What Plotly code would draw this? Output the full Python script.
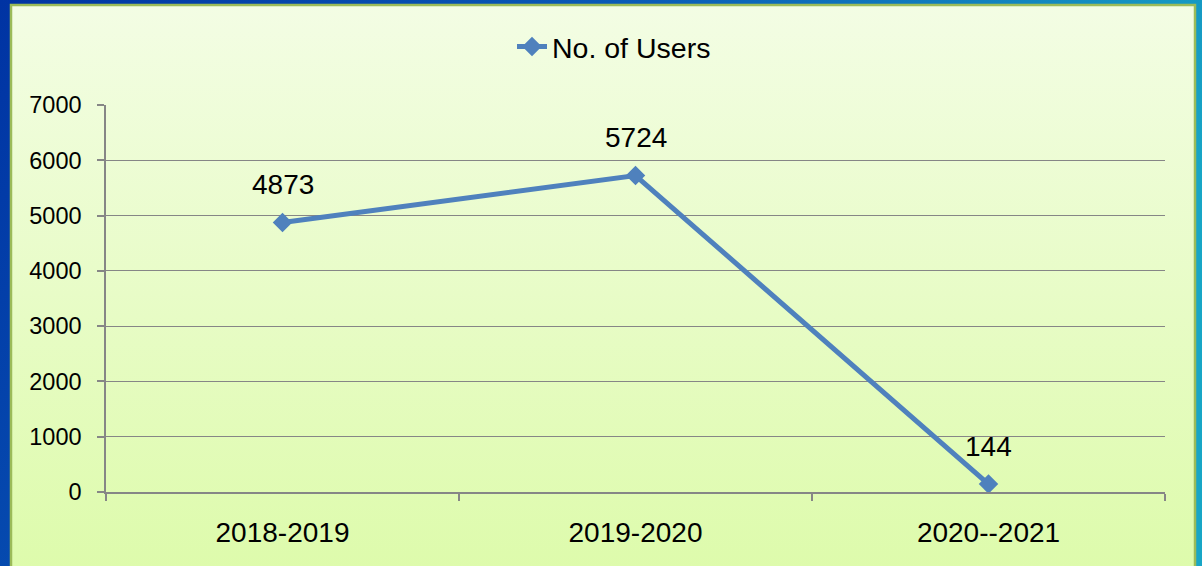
import base64
import plotly.graph_objects as go

categories = ["2018-2019", "2019-2020", "2020--2021"]
users = [4873, 5724, 144]
y_ticks = [0, 1000, 2000, 3000, 4000, 5000, 6000, 7000]
series_name = "No. of Users"

W, H = 1202, 566
ML, MR, MT, MB = 106, 37, 105, 74
PW, PH = W - ML - MR, H - MT - MB

svg = f'''<svg xmlns="http://www.w3.org/2000/svg" width="{W}" height="{H}" viewBox="0 0 {W} {H}" preserveAspectRatio="none">
<defs>
<linearGradient id="o" x1="0" y1="0" x2="1" y2="0.3">
<stop offset="0" stop-color="#0033a3"/><stop offset="0.5" stop-color="#0a5cb8"/><stop offset="1" stop-color="#18a6c6"/>
</linearGradient>
<linearGradient id="g" x1="0" y1="0" x2="0" y2="1">
<stop offset="0" stop-color="#f3fde4"/><stop offset="1" stop-color="#dcfba8"/>
</linearGradient>
</defs>
<rect x="0" y="0" width="{W}" height="{H}" fill="url(#o)"/>
<rect x="11" y="5" width="1184" height="600" fill="url(#g)" stroke="#9bbb59" stroke-width="2.5"/>
</svg>'''
src = "data:image/svg+xml;base64," + base64.b64encode(svg.encode()).decode()

fig = go.Figure()
fig.add_trace(go.Scatter(
    x=categories, y=users, mode="lines+markers", name=series_name,
    line=dict(color="#4f81bd", width=5),
    marker=dict(symbol="diamond", size=15, color="#4f81bd"),
    showlegend=True,
))
for c, v in zip(categories, users):
    fig.add_annotation(x=c, y=v, text=str(v), showarrow=False, yshift=38,
                       font=dict(family="Liberation Sans, Arial, sans-serif", size=28, color="#000"))

fig.update_layout(
    width=W, height=H,
    margin=dict(l=ML, r=MR, t=MT, b=MB, pad=0),
    paper_bgcolor="#0a5cb8",
    plot_bgcolor="rgba(0,0,0,0)",
    font=dict(family="Liberation Sans, Arial, sans-serif", color="#000"),
    images=[dict(source=src, xref="paper", yref="paper",
                 x=-ML / PW, y=1 + MT / PH, sizex=W / PW, sizey=H / PH,
                 xanchor="left", yanchor="top", sizing="stretch", layer="below")],
    legend=dict(orientation="h", x=(614 - ML) / PW, xanchor="center",
                y=(PH + MT - 47) / PH, yanchor="middle",
                font=dict(size=28.5), bgcolor="rgba(0,0,0,0)"),
    xaxis=dict(type="category", tickson="boundaries", ticks="outside", ticklen=7,
               tickcolor="#868686", tickwidth=1.5, showline=True, linecolor="#868686", linewidth=1.5,
               showgrid=False, tickfont=dict(size=28), ticklabelstandoff=15, range=[-0.5, 2.5]),
    yaxis=dict(range=[0, 7000], tickvals=y_ticks, ticks="outside", ticklen=7,
               tickcolor="#868686", tickwidth=1.5, showline=True, linecolor="#868686", linewidth=1.5,
               showgrid=True, gridcolor="#868686", gridwidth=1.2, zeroline=False,
               tickfont=dict(size=23.5), ticklabelstandoff=11),
)
fig.write_html("out.html", config={"displayModeBar": False},
               post_script="document.body.style.margin='0';document.body.style.overflow='hidden';")
